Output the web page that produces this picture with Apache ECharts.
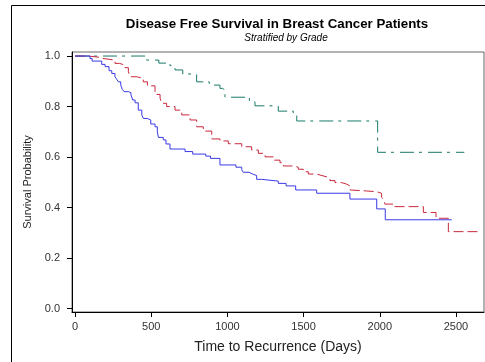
<!DOCTYPE html>
<html>
<head>
<meta charset="utf-8">
<script src="https://cdn.jsdelivr.net/npm/echarts@6/dist/echarts.min.js"></script>
<style>
  html, body { margin: 0; padding: 0; background: #fff; }
  #chart { width: 485px; height: 362px; }
</style>
</head>
<body>
<div id="chart"></div>
<script>
// Kaplan-Meier estimates by tumour grade: event times (days) and survival probability
const grade1Days = [0, 470, 550, 623, 656, 707, 798, 881, 951, 969, 984, 1144, 1181, 1334, 1432, 1455, 1986, 2555];
const grade1Surv = [1.0, 0.984, 0.972, 0.962, 0.945, 0.929, 0.898, 0.885, 0.872, 0.865, 0.837, 0.819, 0.803, 0.782, 0.764, 0.743, 0.619, 0.619];

const grade2Days = [0, 88, 160, 175, 262, 291, 328, 350, 361, 405, 448, 475, 525, 558, 569, 601, 656, 700, 755, 798, 842, 897, 951, 1006, 1094, 1159, 1203, 1247, 1301, 1345, 1367, 1432, 1465, 1498, 1531, 1586, 1608, 1651, 1673, 1706, 1750, 1783, 1804, 1815, 1914, 1980, 2012, 2023, 2034, 2093, 2286, 2369, 2450, 2657];
const grade2Surv = [1.0, 0.995, 0.991, 0.984, 0.971, 0.964, 0.954, 0.938, 0.918, 0.912, 0.898, 0.882, 0.848, 0.833, 0.813, 0.800, 0.786, 0.767, 0.747, 0.720, 0.703, 0.672, 0.664, 0.653, 0.641, 0.628, 0.615, 0.601, 0.588, 0.578, 0.565, 0.560, 0.552, 0.542, 0.533, 0.529, 0.522, 0.516, 0.507, 0.499, 0.493, 0.486, 0.470, 0.466, 0.463, 0.457, 0.441, 0.433, 0.414, 0.404, 0.381, 0.358, 0.305, 0.305];

const grade3Days = [0, 98, 112, 175, 197, 223, 241, 262, 274, 284, 300, 310, 322, 350, 367, 379, 394, 415, 438, 448, 474, 497, 525, 540, 547, 579, 597, 623, 722, 772, 858, 889, 951, 1056, 1094, 1104, 1142, 1165, 1192, 1225, 1334, 1385, 1448, 1586, 1804, 1980, 2036, 2472];
const grade3Surv = [1.0, 0.99, 0.98, 0.967, 0.958, 0.942, 0.931, 0.918, 0.908, 0.898, 0.885, 0.868, 0.859, 0.855, 0.846, 0.826, 0.815, 0.786, 0.767, 0.753, 0.747, 0.731, 0.72, 0.70, 0.678, 0.668, 0.652, 0.632, 0.622, 0.612, 0.604, 0.595, 0.569, 0.560, 0.550, 0.540, 0.533, 0.527, 0.512, 0.505, 0.496, 0.486, 0.470, 0.457, 0.434, 0.395, 0.352, 0.352];

// Axis tick values
const xTicks = [0, 500, 1000, 1500, 2000, 2500];
const yTicks = [0, 0.2, 0.4, 0.6, 0.8, 1.0];

const FONT = "Arial, 'Liberation Sans', sans-serif";

function pairs(days, surv) {
  return days.map((d, i) => [d, surv[i]]);
}

const chart = echarts.init(document.getElementById('chart'), null, { renderer: 'canvas' });

chart.setOption({
  animation: false,
  backgroundColor: '#ffffff',
  grid: {
    left: 72, right: 1, top: 52, bottom: 50,
    containLabel: false,
    outerBoundsMode: 'none',
    show: true,
    borderColor: '#666666',
    borderWidth: 1,
    backgroundColor: 'transparent'
  },
  graphic: [
    {
      type: 'rect',
      shape: { x: 11.5, y: 5.5, width: 500, height: 400 },
      style: { fill: 'none', stroke: '#000000', lineWidth: 1 },
      silent: true, z: -10
    },
    {
      type: 'text', x: 277, y: 24,
      style: {
        text: 'Disease Free Survival in Breast Cancer Patients',
        font: 'bold 13.3px ' + FONT, fill: '#000000',
        align: 'center', verticalAlign: 'middle'
      }
    },
    {
      type: 'text', x: 286, y: 38,
      style: {
        text: 'Stratified by Grade',
        font: 'italic 10px ' + FONT, fill: '#000000',
        align: 'center', verticalAlign: 'middle'
      }
    }
  ],
  xAxis: {
    type: 'value',
    min: -20, max: 2684,
    name: 'Time to Recurrence (Days)',
    nameLocation: 'middle',
    nameGap: 28,
    nameTextStyle: { fontFamily: FONT, fontSize: 14, color: '#222' },
    axisLine: { show: true, onZero: false, lineStyle: { color: '#000', width: 1 } },
    axisTick: { show: true, length: 5, customValues: xTicks, lineStyle: { color: '#000' } },
    axisLabel: {
      customValues: xTicks, margin: 9,
      fontFamily: FONT, fontSize: 11, color: '#333',
      formatter: v => String(v)
    },
    splitLine: { show: false }
  },
  yAxis: {
    type: 'value',
    min: -0.013, max: 1.016,
    name: 'Survival Probability',
    nameLocation: 'middle',
    nameGap: 38,
    nameTextStyle: { fontFamily: FONT, fontSize: 11, color: '#222' },
    axisLine: { show: true, onZero: false, lineStyle: { color: '#000', width: 1 } },
    axisTick: { show: true, length: 5, customValues: yTicks, lineStyle: { color: '#000' } },
    axisLabel: {
      customValues: yTicks, margin: 12,
      fontFamily: FONT, fontSize: 11, color: '#333',
      formatter: v => v.toFixed(1)
    },
    splitLine: { show: false }
  },
  series: [
    {
      name: 'Grade 1', type: 'line', step: 'end', symbol: 'none',
      data: pairs(grade1Days, grade1Surv),
      lineStyle: { color: '#1a7a6a', width: 1, type: [14, 5, 3, 6] }
    },
    {
      name: 'Grade 2', type: 'line', step: 'end', symbol: 'none',
      data: pairs(grade2Days, grade2Surv),
      lineStyle: { color: '#c8283c', width: 1, type: [10, 4] }
    },
    {
      name: 'Grade 3', type: 'line', step: 'end', symbol: 'none',
      data: pairs(grade3Days, grade3Surv),
      lineStyle: { color: '#3a3ae6', width: 1, type: 'solid' }
    }
  ]
});
</script>
</body>
</html>
